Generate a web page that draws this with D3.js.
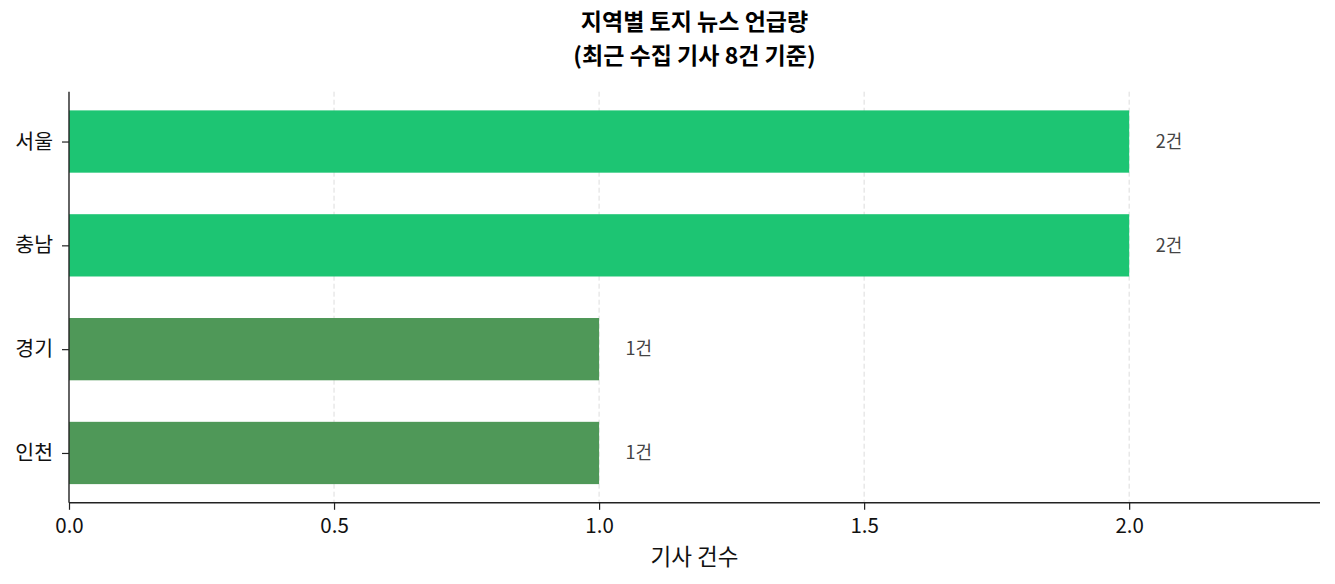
<!DOCTYPE html>
<html><head><meta charset="utf-8">
<script src="https://cdn.jsdelivr.net/npm/d3@7"></script>
<style>
body{margin:0;background:#fff;}
text{font-family:"Noto Sans CJK KR","Noto Sans",sans-serif;}
</style></head>
<body><svg id="c" width="1335" height="584"></svg>
<script>
const regions = ["서울","충남","경기","인천"];
const counts = [2,2,1,1];
const colors = ["#1dc573","#1dc573","#4f9858","#4f9858"];
const xTicks = [0,0.5,1.0,1.5,2.0];
const titleLines = ["지역별 토지 뉴스 언급량","(최근 수집 기사 8건 기준)"];
const xLabel = "기사 건수";

const FF = "'Noto Sans CJK KR','Noto Sans',sans-serif";
const svg = d3.select("#c");
const L=69, R=1320, T=91.7, B=502.8;
const x = d3.scaleLinear().domain([0,2.36]).range([L,R]);
const y = d3.scaleLinear().domain([-0.48,3.48]).range([T,B]);
const barH = 0.6;

// grid
svg.append("g").selectAll("line").data(xTicks.filter(d=>d>0)).join("line")
 .attr("x1",d=>x(d)).attr("x2",d=>x(d)).attr("y1",T).attr("y2",B)
 .attr("stroke","#dddddd").attr("stroke-width",1).attr("stroke-dasharray","5,3");

// bars
svg.append("g").selectAll("rect").data(counts).join("rect")
 .attr("x",x(0)).attr("width",d=>x(d)-x(0))
 .attr("y",(d,i)=>y(i-barH/2)).attr("height",(d,i)=>y(i+barH/2)-y(i-barH/2))
 .attr("fill",(d,i)=>colors[i]);

// value labels
svg.append("g").selectAll("text").data(counts).join("text")
 .attr("x",d=>x(d+0.05)).attr("y",(d,i)=>y(i)).attr("dy","0.35em")
 .style("font-size","18px").attr("fill","#444").text(d=>d+"건");

// axes
const xAxis = d3.axisBottom(x).tickValues(xTicks).tickFormat(d3.format(".1f")).tickSize(7).tickPadding(9);
const gx = svg.append("g").attr("transform",`translate(0,${B})`).call(xAxis);
gx.attr("font-size",null).attr("font-family",null);
gx.select(".domain").attr("d",`M${L},0H${R}`).attr("stroke","#222").attr("stroke-width",1.4);
gx.selectAll(".tick line").attr("stroke","#222").attr("stroke-width",1.2);
gx.selectAll(".tick text").style("font-size","20.5px").attr("fill","#111").style("font-family",FF);

const yAxis = d3.axisLeft(y).tickValues(regions.map((d,i)=>i)).tickFormat(i=>regions[i]).tickSize(7).tickPadding(9);
const gy = svg.append("g").attr("transform",`translate(${L},0)`).call(yAxis);
gy.attr("font-size",null).attr("font-family",null);
gy.select(".domain").attr("d",`M0,${T}V${B}`).attr("stroke","#222").attr("stroke-width",1.4);
gy.selectAll(".tick line").attr("stroke","#222").attr("stroke-width",1.2);
gy.selectAll(".tick text").style("font-size","20.5px").attr("fill","#111").style("font-family",FF);

// title (two lines)
svg.append("g").selectAll("text").data(titleLines).join("text")
 .attr("x",(L+R)/2).attr("y",(d,i)=>30+i*33.5).attr("text-anchor","middle")
 .style("font-size","23px").attr("font-weight","bold").attr("fill","#000").text(d=>d);

svg.append("text").attr("x",(L+R)/2).attr("y",565).attr("text-anchor","middle")
 .style("font-size","22.5px").attr("fill","#111").text(xLabel);
</script></body></html>
